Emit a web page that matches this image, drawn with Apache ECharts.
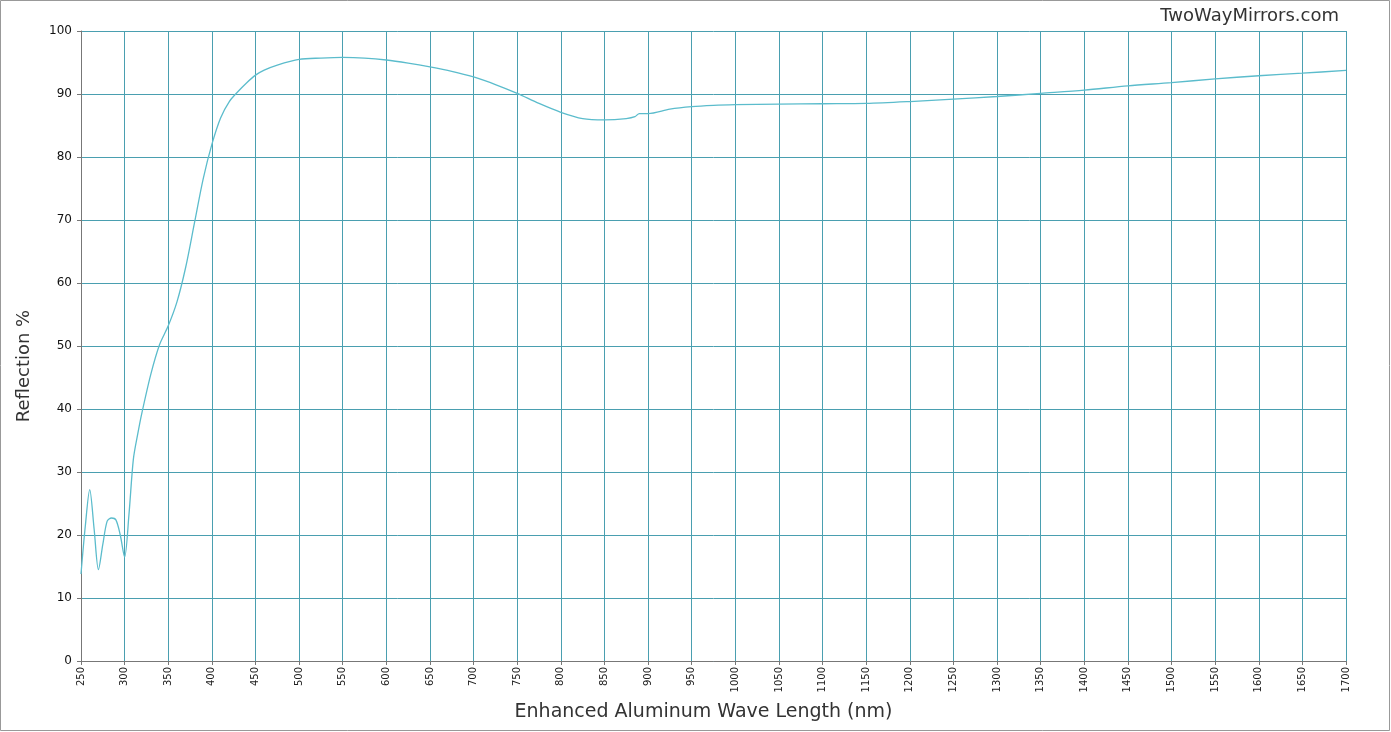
<!DOCTYPE html>
<html>
<head>
<meta charset="utf-8">
<script src="https://cdn.jsdelivr.net/npm/echarts@6/dist/echarts.min.js"></script>
<style>
  html, body { margin: 0; padding: 0; background: #fff; }
  #chart { width: 1391px; height: 732px; }
</style>
</head>
<body>
<div id="chart"></div>
<script>
// wavelength (nm) and reflection (%)
var wavelength = [250, 255, 260, 265, 270, 275, 280, 285, 290, 295, 300, 305, 310, 315, 320, 330, 340, 350,
  360, 370, 380, 390, 400, 410, 420, 430, 440, 450, 460, 475, 500, 525, 550, 575, 600, 625, 650, 675, 700,
  725, 750, 775, 800, 825, 850, 875, 885, 890, 900, 925, 950, 975, 1000, 1050, 1100, 1150, 1200, 1250,
  1300, 1350, 1400, 1450, 1500, 1550, 1600, 1650, 1700];
var reflection = [13.8, 21.5, 27.2, 21, 14.5, 18.5, 22.2, 22.7, 22.4, 20, 16.5, 23.3, 32, 36, 39.5, 45.5, 50.2, 53.2,
  57, 62.5, 69.5, 76.5, 82, 86.2, 88.8, 90.4, 91.8, 93, 93.8, 94.6, 95.5, 95.7, 95.8, 95.7, 95.4, 94.9, 94.3, 93.6, 92.7,
  91.5, 90.1, 88.5, 87.1, 86.1, 85.9, 86.1, 86.4, 86.9, 86.9, 87.6, 88.0, 88.2, 88.3, 88.4, 88.45, 88.5, 88.8, 89.2,
  89.6, 90.1, 90.6, 91.3, 91.8, 92.4, 92.9, 93.3, 93.75];

var points = wavelength.map(function (w, i) { return [w, reflection[i]]; });

var gridColor = '#4a9fb0';
var axisColor = '#777';
var font = 'DejaVu Sans';

var myChart = echarts.init(document.getElementById('chart'));
myChart.setOption({
  animation: false,
  textStyle: { fontFamily: font },
  grid: { left: 81, right: 45, top: 31, bottom: 71, containLabel: false },
  graphic: [
    {
      type: 'rect',
      shape: { x: 0.5, y: 0.5, width: 1389, height: 730 },
      style: { fill: 'none', stroke: '#999', lineWidth: 1 }
    },
    {
      type: 'text',
      right: 52,
      top: 7,
      style: { text: 'TwoWayMirrors.com', fontFamily: font, fontSize: 18, fill: '#333' }
    }
  ],
  xAxis: {
    type: 'value',
    min: 250,
    max: 1700,
    interval: 50,
    name: 'Enhanced Aluminum Wave Length (nm)',
    nameLocation: 'middle',
    nameGap: 42,
    nameTextStyle: { fontSize: 19, color: '#333', fontFamily: font, padding: [0, 20, 0, 0] },
    axisLine: { lineStyle: { color: axisColor } },
    axisTick: { show: true, length: 4, lineStyle: { color: axisColor } },
    axisLabel: { rotate: 90, fontSize: 10, color: '#222', margin: 6, formatter: function (v) { return String(v); } },
    splitLine: { show: true, lineStyle: { color: gridColor, width: 1 } }
  },
  yAxis: {
    type: 'value',
    min: 0,
    max: 100,
    interval: 10,
    name: 'Reflection %',
    nameLocation: 'middle',
    nameGap: 48,
    nameTextStyle: { fontSize: 18, color: '#333', fontFamily: font, padding: [0, 40, 0, 0] },
    axisLine: { show: true, lineStyle: { color: axisColor } },
    axisTick: { show: true, length: 4, lineStyle: { color: axisColor } },
    axisLabel: { fontSize: 12, color: '#111', margin: 9 },
    splitLine: { show: true, lineStyle: { color: gridColor, width: 1 } }
  },
  series: [{
    type: 'line',
    data: points,
    smooth: 0.3,
    showSymbol: false,
    lineStyle: { color: '#5bbccc', width: 1.3 }
  }]
});
</script>
</body>
</html>
